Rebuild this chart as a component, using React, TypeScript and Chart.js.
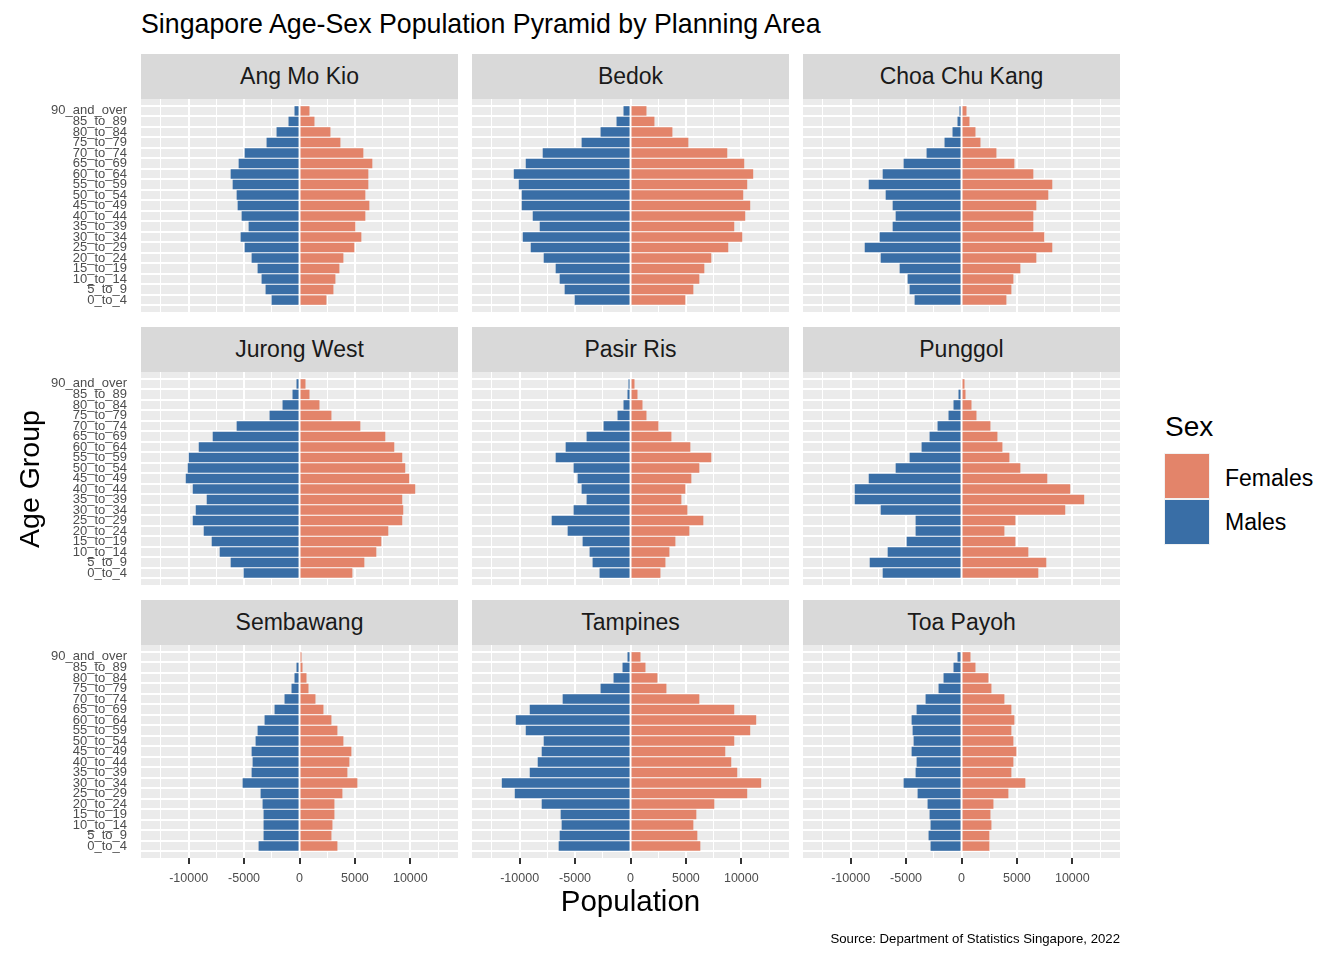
import React, { useEffect, useRef } from 'react';
import { Chart, registerables } from 'chart.js';

Chart.register(...registerables);

// ---------- data ----------
const ageGroups = [
  '0_to_4', '5_to_9', '10_to_14', '15_to_19', '20_to_24', '25_to_29', '30_to_34',
  '35_to_39', '40_to_44', '45_to_49', '50_to_54', '55_to_59', '60_to_64', '65_to_69',
  '70_to_74', '75_to_79', '80_to_84', '85_to_89', '90_and_over',
];

const areas = [
  'Ang Mo Kio', 'Bedok', 'Choa Chu Kang',
  'Jurong West', 'Pasir Ris', 'Punggol',
  'Sembawang', 'Tampines', 'Toa Payoh',
];

// values listed from 0_to_4 up to 90_and_over
const angMoKioMales = [2520, 3060, 3420, 3780, 4320, 4950, 5310, 4590, 5220, 5580, 5670, 6030, 6210, 5490, 4950, 2970, 2070, 990, 450];
const angMoKioFemales = [2430, 3060, 3240, 3600, 3960, 4950, 5580, 5040, 5940, 6300, 5940, 6210, 6210, 6570, 5760, 3690, 2790, 1350, 900];

const bedokMales = [5040, 5940, 6390, 6750, 7830, 9000, 9720, 8190, 8820, 9810, 9810, 10080, 10530, 9450, 7920, 4410, 2700, 1260, 630];
const bedokFemales = [4950, 5670, 6210, 6660, 7290, 8820, 10080, 9360, 10350, 10800, 10170, 10530, 11070, 10260, 8730, 5220, 3780, 2160, 1440];

const choaChuKangMales = [4230, 4680, 4860, 5580, 7290, 8730, 7380, 6210, 5940, 6210, 6840, 8370, 7110, 5220, 3150, 1530, 810, 360, 180];
const choaChuKangFemales = [4050, 4500, 4680, 5310, 6750, 8190, 7470, 6480, 6480, 6750, 7830, 8190, 6480, 4770, 3150, 1710, 1260, 720, 450];

const jurongWestMales = [5040, 6210, 7200, 7920, 8640, 9630, 9360, 8370, 9630, 10260, 10080, 9990, 9090, 7830, 5670, 2700, 1530, 630, 270];
const jurongWestFemales = [4770, 5850, 6930, 7380, 8010, 9270, 9360, 9270, 10440, 9900, 9540, 9270, 8550, 7740, 5490, 2880, 1800, 900, 540];

const pasirRisMales = [2790, 3420, 3690, 4320, 5670, 7110, 5130, 3960, 4410, 4770, 5130, 6750, 5850, 3960, 2430, 1170, 630, 270, 180];
const pasirRisFemales = [2700, 3150, 3510, 4050, 5310, 6570, 5130, 4590, 4950, 5490, 6210, 7290, 5400, 3690, 2520, 1440, 1080, 630, 360];

const punggolMales = [7110, 8280, 6660, 4950, 4140, 4140, 7290, 9630, 9630, 8370, 5940, 4680, 3600, 2880, 2160, 1170, 720, 270, 90];
const punggolFemales = [6930, 7650, 6030, 4860, 3870, 4860, 9360, 11070, 9810, 7740, 5310, 4320, 3690, 3240, 2610, 1350, 900, 360, 270];

const sembawangMales = [3690, 3240, 3240, 3240, 3330, 3510, 5130, 4320, 4230, 4320, 3960, 3780, 3150, 2250, 1350, 720, 450, 270, 90];
const sembawangFemales = [3420, 2880, 2970, 3150, 3150, 3870, 5220, 4320, 4500, 4680, 3960, 3420, 2880, 2160, 1440, 810, 630, 270, 180];

const tampinesMales = [6480, 6390, 6210, 6300, 8010, 10440, 11610, 9090, 8370, 8010, 7830, 9450, 10350, 9090, 6120, 2700, 1530, 720, 270];
const tampinesFemales = [6300, 6030, 5670, 5940, 7560, 10530, 11790, 9630, 9090, 8550, 9360, 10800, 11340, 9360, 6210, 3240, 2430, 1350, 900];

const toaPayohMales = [2790, 2970, 2790, 2880, 3060, 3960, 5220, 4140, 4050, 4500, 4320, 4410, 4500, 4050, 3240, 2070, 1620, 720, 360];
const toaPayohFemales = [2520, 2520, 2700, 2610, 2880, 4230, 5760, 4500, 4680, 4950, 4680, 4500, 4770, 4500, 3870, 2700, 2430, 1260, 810];

const malesByArea = [
  angMoKioMales, bedokMales, choaChuKangMales,
  jurongWestMales, pasirRisMales, punggolMales,
  sembawangMales, tampinesMales, toaPayohMales,
];
const femalesByArea = [
  angMoKioFemales, bedokFemales, choaChuKangFemales,
  jurongWestFemales, pasirRisFemales, punggolFemales,
  sembawangFemales, tampinesFemales, toaPayohFemales,
];

const xTickValues = [-12500, -10000, -7500, -5000, -2500, 0, 2500, 5000, 7500, 10000, 12500];
const xLimit = 14300;

// ---------- style ----------
const FONT = "'Liberation Sans', Arial, Helvetica, sans-serif";
const FEMALE = '#E3846A';
const MALE = '#396EA6';
const PANEL_BG = '#EBEBEB';
const STRIP_BG = '#D9D9D9';

const COL_LEFT = [141, 472, 803];
const ROW_TOP = [99, 372, 645];
const PW = 317;
const PH = 213;
const STRIP_H = 45;
const YAXIS_W = 100;
const XAXIS_H = 40;
const M = 10;

const bgPlugin = {
  id: 'panelBg',
  beforeDraw(chart: any) {
    const { ctx, chartArea: a } = chart;
    ctx.save();
    ctx.fillStyle = PANEL_BG;
    ctx.fillRect(a.left, a.top, a.right - a.left, a.bottom - a.top);
    ctx.restore();
  },
};

function zeroPadding(s: any) {
  s.paddingTop = 0;
  s.paddingBottom = 0;
  s.paddingLeft = 0;
  s.paddingRight = 0;
}

function Panel({ idx }: { idx: number }) {
  const ref = useRef<HTMLCanvasElement>(null);
  const col = idx % 3;
  const row = Math.floor(idx / 3);
  const showY = col === 0;
  const showX = row === 2;
  const left = COL_LEFT[col] - M - (showY ? YAXIS_W : 0);
  const top = ROW_TOP[row] - M;
  const width = PW + 2 * M + (showY ? YAXIS_W : 0);
  const height = PH + 2 * M + (showX ? XAXIS_H : 0);

  useEffect(() => {
    const males = malesByArea[idx];
    const females = femalesByArea[idx];
    const chart = new Chart(ref.current as HTMLCanvasElement, {
      type: 'bar',
      data: {
        datasets: [
          {
            label: 'Females',
            data: females.map((v, i) => ({ x: v, y: i })),
            backgroundColor: FEMALE,
            borderWidth: 0,
          },
          {
            label: 'Males',
            data: males.map((v, i) => ({ x: -v, y: i })),
            backgroundColor: MALE,
            borderWidth: 0,
          },
        ],
      },
      options: {
        indexAxis: 'y',
        animation: false,
        responsive: false,
        events: [],
        layout: { padding: M },
        datasets: { bar: { barPercentage: 0.9, categoryPercentage: 1 } } as any,
        plugins: {
          legend: { display: false },
          tooltip: { enabled: false },
        },
        scales: {
          x: {
            type: 'linear',
            min: -xLimit,
            max: xLimit,
            stacked: true,
            afterBuildTicks: (s: any) => {
              s.ticks = xTickValues.map((v) => ({ value: v }));
            },
            afterFit: (s: any) => {
              s.height = showX ? XAXIS_H : 0;
              zeroPadding(s);
            },
            border: { display: false },
            grid: {
              color: '#FFFFFF',
              lineWidth: (c: any) => (c.tick && c.tick.value % 5000 === 0 ? 2 : 1),
              drawTicks: showX,
              tickLength: 6,
              tickColor: (c: any) => (c.tick && c.tick.value % 5000 === 0 ? '#333333' : 'rgba(0,0,0,0)'),
              tickWidth: 2,
            },
            ticks: {
              display: showX,
              autoSkip: false,
              maxRotation: 0,
              padding: 7,
              color: '#4D4D4D',
              font: { family: FONT, size: 12.5 },
              callback: (v: any) => (Number(v) % 5000 === 0 ? String(v) : ''),
            },
          },
          y: {
            type: 'linear',
            min: -0.6,
            max: ageGroups.length - 0.4,
            stacked: true,
            afterBuildTicks: (s: any) => {
              s.ticks = ageGroups.map((_, i) => ({ value: i }));
            },
            afterFit: (s: any) => {
              s.width = showY ? YAXIS_W : 0;
              zeroPadding(s);
            },
            border: { display: false },
            grid: { color: '#FFFFFF', lineWidth: 2, drawTicks: false },
            ticks: {
              display: showY,
              autoSkip: false,
              padding: 14,
              color: '#4D4D4D',
              font: { family: FONT, size: 13 },
              callback: (v: any) => ageGroups[Number(v)] ?? '',
            },
          },
        },
      } as any,
      plugins: [bgPlugin],
    });
    return () => chart.destroy();
  }, [idx]);

  return (
    <canvas
      ref={ref}
      width={width}
      height={height}
      style={{ position: 'absolute', left, top, width, height }}
    />
  );
}

function Text({ children, style }: { children: React.ReactNode; style: React.CSSProperties }) {
  return (
    <div style={{ position: 'absolute', fontFamily: FONT, lineHeight: 1, whiteSpace: 'nowrap', ...style }}>
      {children}
    </div>
  );
}

export default function App() {
  return (
    <div
      style={{
        position: 'absolute',
        left: 0,
        top: 0,
        width: 1344,
        height: 960,
        background: '#FFFFFF',
        overflow: 'hidden',
        fontFamily: FONT,
      }}
    >
      <Text style={{ left: 141, top: 10.5, fontSize: 26.75, color: '#000000' }}>
        Singapore Age-Sex Population Pyramid by Planning Area
      </Text>

      {areas.map((name, i) => {
        const col = i % 3;
        const row = Math.floor(i / 3);
        return (
          <div
            key={name}
            style={{
              position: 'absolute',
              left: COL_LEFT[col],
              top: ROW_TOP[row] - STRIP_H,
              width: PW,
              height: STRIP_H,
              background: STRIP_BG,
              display: 'flex',
              alignItems: 'center',
              justifyContent: 'center',
              fontFamily: FONT,
              fontSize: 23,
              lineHeight: 1,
              color: '#1A1A1A',
            }}
          >
            {name}
          </div>
        );
      })}

      {areas.map((name, i) => (
        <Panel key={'p' + name} idx={i} />
      ))}

      <div
        style={{
          position: 'absolute',
          left: 29 - 150,
          top: 478.5 - 15,
          width: 300,
          height: 30,
          display: 'flex',
          alignItems: 'center',
          justifyContent: 'center',
          transform: 'rotate(-90deg)',
          fontFamily: FONT,
          fontSize: 28.5,
          lineHeight: 1,
          color: '#000000',
        }}
      >
        Age Group
      </div>

      <div
        style={{
          position: 'absolute',
          left: 630.5 - 150,
          top: 886,
          width: 300,
          textAlign: 'center',
          fontFamily: FONT,
          fontSize: 29.5,
          lineHeight: 1,
          color: '#000000',
        }}
      >
        Population
      </div>

      {/* legend */}
      <Text style={{ left: 1165, top: 413, fontSize: 28, color: '#000000' }}>Sex</Text>
      <div style={{ position: 'absolute', left: 1164, top: 453, width: 46, height: 92, background: '#F2F2F2' }} />
      <div style={{ position: 'absolute', left: 1165, top: 454, width: 44, height: 44, background: FEMALE }} />
      <div style={{ position: 'absolute', left: 1165, top: 500, width: 44, height: 44, background: MALE }} />
      <Text style={{ left: 1225, top: 466.5, fontSize: 23, color: '#000000' }}>Females</Text>
      <Text style={{ left: 1225, top: 511.2, fontSize: 23, color: '#000000' }}>Males</Text>

      <div
        style={{
          position: 'absolute',
          right: 1344 - 1120,
          top: 931.5,
          fontFamily: FONT,
          fontSize: 13.2,
          lineHeight: 1,
          color: '#000000',
          whiteSpace: 'nowrap',
        }}
      >
        Source: Department of Statistics Singapore, 2022
      </div>
    </div>
  );
}
